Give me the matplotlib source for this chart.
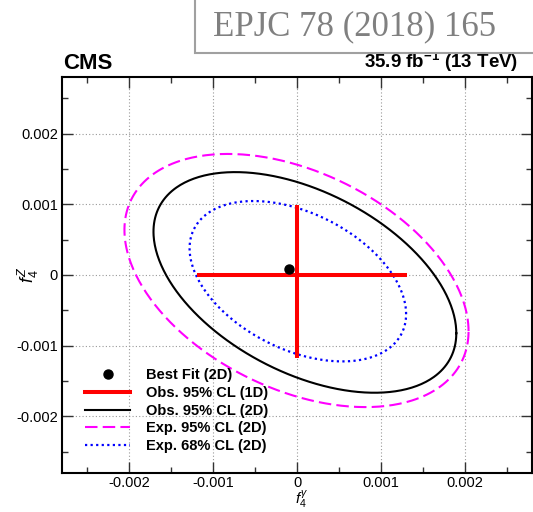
import numpy as np
import matplotlib
matplotlib.use("Agg")
import matplotlib.pyplot as plt
from matplotlib.lines import Line2D
from matplotlib.patches import Rectangle

plt.rcParams['font.family'] = ['Liberation Sans', 'DejaVu Sans']
plt.rcParams['mathtext.fontset'] = 'custom'
plt.rcParams['mathtext.it'] = 'Liberation Sans:italic'
plt.rcParams['mathtext.rm'] = 'Liberation Sans'
plt.rcParams['mathtext.bf'] = 'Liberation Sans:bold'
plt.rcParams['axes.unicode_minus'] = False

# ---- data ----
best_fit_x = [-0.09e-3]
best_fit_z = [0.08e-3]

obs1d_x = [-1.19e-3, 1.31e-3]   # f4gamma 95% CL interval (1D)
obs1d_z = [-1.18e-3, 0.99e-3]   # f4Z 95% CL interval (1D)

# 2D contours: centre x, centre z, half-extent x, half-extent z, correlation
obs95_2d = [0.094e-3, -0.105e-3, 1.804e-3, 1.56e-3, -0.46]
exp95_2d = [-0.006e-3, -0.078e-3, 2.05e-3, 1.79e-3, -0.40]
exp68_2d = [0.01e-3, -0.088e-3, 1.29e-3, 1.134e-3, -0.41]

tick_vals = [-0.002, -0.001, 0.0, 0.001, 0.002]
tick_labels = ["-0.002", "-0.001", "0", "0.001", "0.002"]
legend_labels = ["Best Fit (2D)", "Obs. 95% CL (1D)", "Obs. 95% CL (2D)",
                 "Exp. 95% CL (2D)", "Exp. 68% CL (2D)"]


def contour(p, n=400):
    cx, cz, sx, sz, rho = p
    t = np.linspace(0, 2 * np.pi, n)
    x = cx + sx * np.cos(t)
    z = cz + sz * (rho * np.cos(t) + np.sqrt(1 - rho ** 2) * np.sin(t))
    return x, z


fig = plt.figure(figsize=(5.33, 5.12), dpi=100)
ax = fig.add_axes([62 / 533, 1 - 473 / 512, 470 / 533, 396 / 512])

ax.set_xlim(-0.0028, 0.0028)
ax.set_ylim(-0.0028, 0.0028)

ax.grid(True, which='major', color='#999999', linestyle=(0, (1, 2)), linewidth=0.8)
ax.set_axisbelow(True)

x, z = contour(exp95_2d)
ax.plot(x, z, color='#ff00ff', lw=1.5, linestyle=(0, (6, 2.5)))
x, z = contour(obs95_2d)
ax.plot(x, z, color='black', lw=1.5)
x, z = contour(exp68_2d)
ax.plot(x, z, color='#0000ff', lw=1.6, linestyle=(0, (1, 1.5)))

ax.plot(obs1d_x, [0, 0], color='red', lw=2.9, solid_capstyle='butt')
ax.plot([0, 0], obs1d_z, color='red', lw=2.9, solid_capstyle='butt')
ax.plot(best_fit_x, best_fit_z, 'o', color='black', ms=6.5)

ax.set_xticks(tick_vals)
ax.set_xticklabels(tick_labels)
ax.set_yticks(tick_vals)
ax.set_yticklabels(tick_labels)
ax.set_xticks(np.arange(-0.0025, 0.0026, 0.001), minor=True)
ax.set_yticks(np.arange(-0.0025, 0.0026, 0.001), minor=True)
ax.tick_params(which='both', direction='in', top=True, right=True, labelsize=10.5, pad=3,
               width=1.0, color='#333333')
ax.tick_params(axis='x', which='both', pad=2)
ax.tick_params(which='major', length=8)
ax.tick_params(which='minor', length=4)
for s in ax.spines.values():
    s.set_linewidth(1.5)

ax.set_xlabel(r"$f_{4}^{\gamma}$", fontsize=11)
ax.set_ylabel(r"$f_{4}^{Z}$", fontsize=13)
ax.xaxis.set_label_coords(0.51, -0.04)
ax.yaxis.set_label_coords(-0.045, 0.5)

ax.text(0.002, 1.008, "CMS", transform=ax.transAxes, fontsize=16, fontweight='bold',
        ha='left', va='bottom')
ax.text(0.97, 1.008, r"35.9 fb$^{\mathbf{-1}}$ (13 TeV)", transform=ax.transAxes,
        fontsize=13.5, fontweight='bold', ha='right', va='bottom')

handles = [
    Line2D([], [], marker='o', color='black', ms=6.5, linestyle='none'),
    Line2D([], [], color='red', lw=2.9),
    Line2D([], [], color='black', lw=1.5),
    Line2D([], [], color='#ff00ff', lw=1.5, linestyle=(0, (6, 2.5))),
    Line2D([], [], color='#0000ff', lw=1.6, linestyle=(0, (1, 1.5))),
]
leg = ax.legend(handles, legend_labels, loc='upper left', bbox_to_anchor=(0.049, 0.264),
                frameon=False, borderpad=0, borderaxespad=0, handlelength=3.1,
                handletextpad=1.05, labelspacing=0.25,
                prop={'family': 'Liberation Sans', 'weight': 'bold', 'size': 10.5})

# publication stamp box
fig.patches.append(Rectangle((195 / 533, 1 - 53 / 512), 0.7, 0.2, transform=fig.transFigure,
                             facecolor='white', edgecolor='#a0a0a0', lw=1.5, zorder=5))
fig.text(213 / 533, 1 - 27 / 512, "EPJC 78 (2018) 165", family='Liberation Serif',
         fontsize=25, color='#808080', ha='left', va='center', zorder=6)

fig.savefig("out.png", dpi=100)
